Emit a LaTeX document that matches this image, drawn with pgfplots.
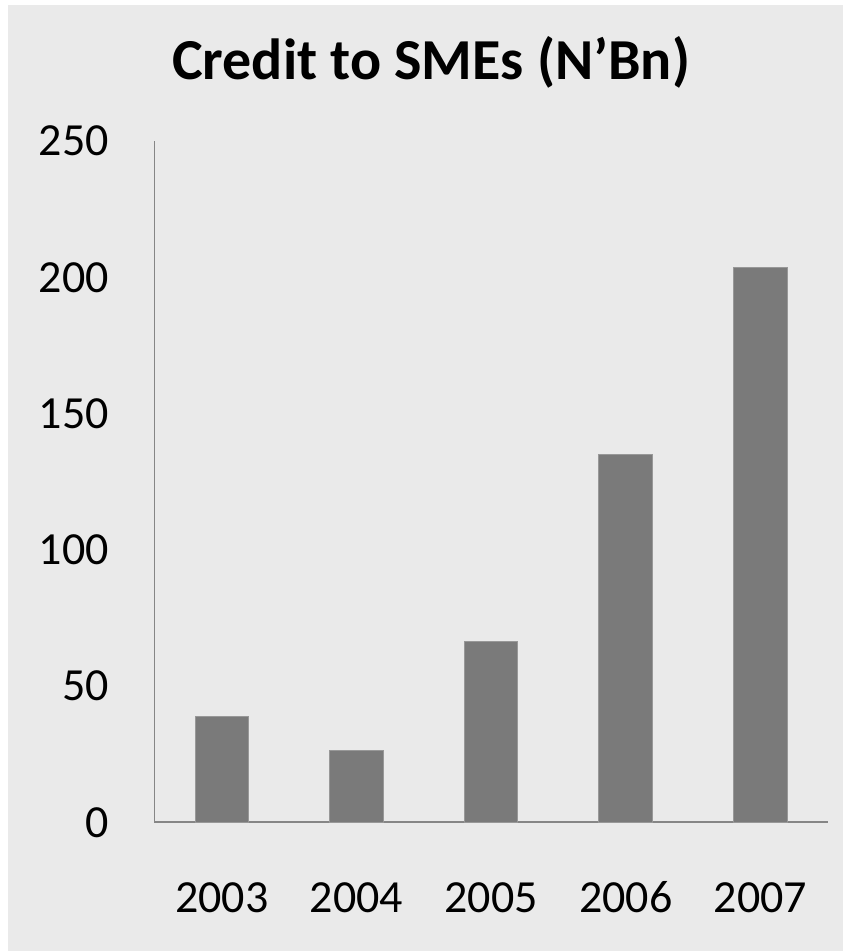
\documentclass[border=0pt]{standalone}
\usepackage{pgfplots}
\pgfplotsset{compat=1.18}
\usepackage{fontspec}
\setmainfont{Carlito}
\definecolor{bg}{RGB}{234,234,234}
\definecolor{barfill}{RGB}{122,122,122}
\definecolor{baredge}{RGB}{152,152,152}
\definecolor{axline}{RGB}{134,134,134}
\begin{document}
\begin{tikzpicture}[x=1pt,y=1pt]
\fill[white] (0,0) rectangle (843,951);
\fill[bg] (8,0) rectangle (843,946);
\useasboundingbox (0,0) rectangle (843,951);
\node[anchor=base, font=\fontsize{58}{70}\selectfont\bfseries, inner sep=0pt] at (431,871) {Credit to SMEs (N’Bn)};
\begin{axis}[
  at={(154.5pt,129pt)}, anchor=south west,
  scale only axis, width=673.2pt, height=681pt,
  xmin=-0.5, xmax=4.5, ymin=0, ymax=250,
  axis lines*=left,
  axis line style={draw=axline, line width=1.2pt},
  xtick={0,1,2,3,4},
  xticklabels={2003,2004,2005,2006,2007},
  ytick={0,50,100,150,200,250},
  yticklabels={0,50,100,150,200,250},
  major tick length=0pt,
  tick style={draw=none},
  ticklabel style={font=\fontsize{46}{55}\selectfont, inner sep=0pt, text=black},
  yticklabel style={anchor=base east, xshift=-45.5pt, yshift=-15pt},
  xticklabel style={anchor=base, yshift=-90pt},
  ybar, bar width=53.5pt, bar shift=0pt,
  clip=false,
]
\addplot[fill=barfill, draw=baredge, line width=1pt] coordinates {(0,38.7) (1,26.3) (2,66.3) (3,135) (4,203.6)};
\end{axis}
\end{tikzpicture}
\end{document}
